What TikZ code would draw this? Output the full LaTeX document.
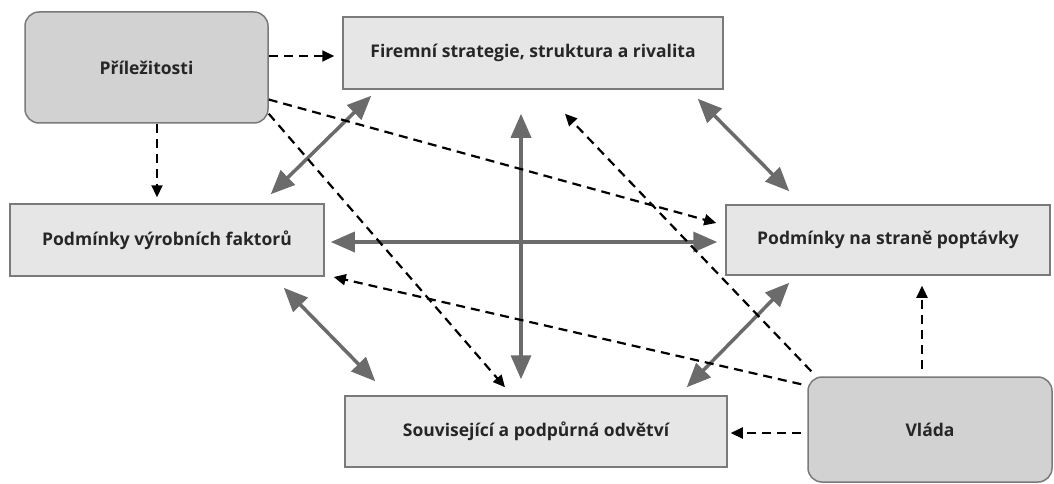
\documentclass[tikz,border=0pt]{standalone}
\usepackage{fontspec}
\setmainfont{Open Sans}
\usetikzlibrary{arrows.meta,calc}
\definecolor{boxfill}{HTML}{E6E6E6}
\definecolor{roundfill}{HTML}{D2D2D2}
\definecolor{boxline}{HTML}{7A7A7A}
\definecolor{solidarrow}{HTML}{6B6B6B}
\tikzset{
  rectbox/.style={draw=boxline, line width=1.5pt, fill=boxfill, inner sep=0pt,
    font=\fontsize{17.5}{20}\selectfont\bfseries, text=black!85},
  roundbox/.style={rectbox, fill=roundfill, rounded corners=14pt},
  biarrow/.style={draw=solidarrow, line width=3.5pt,
    {Triangle[length=24pt,width=20pt]}-{Triangle[length=24pt,width=20pt]}},
  dasharrow/.style={draw=black, line width=2.2pt, dash pattern=on 9pt off 6pt,
    -{Triangle[length=12pt,width=11pt]}}
}
\begin{document}
\begin{tikzpicture}[x=1pt,y=-1pt]
\useasboundingbox (0,0) rectangle (1054,484);
\node[roundbox, minimum width=243pt, minimum height=111pt] (P) at (146.5,67.5) {Příležitosti};
\node[rectbox, minimum width=380pt, minimum height=72pt] (F) at (533,53) {Firemní strategie, struktura a rivalita};
\node[rectbox, minimum width=314pt, minimum height=72pt] (V) at (167,240) {Podmínky výrobních faktorů};
\node[rectbox, minimum width=324pt, minimum height=70pt] (D) at (888,240) {Podmínky na straně poptávky};
\node[rectbox, minimum width=382pt, minimum height=71pt] (S) at (536,431.5) {Související a podpůrná odvětví};
\node[roundbox, minimum width=244pt, minimum height=105pt] (G) at (930,429.5) {Vláda};

% solid double arrows
\draw[biarrow] ($(V.north east)+(-54,-9)$) -- ($(F.south west)+(29,6)$);
\draw[biarrow] ($(F.south east)+(-26,9)$) -- ($(D.north west)+(64,-13)$);
\draw[biarrow] ($(F.south)+(-12,24)$) -- ($(S.north)+(-15,-16)$);
\draw[biarrow] ($(V.east)+(6,2)$) -- ($(D.west)+(-8,2)$);
\draw[biarrow] ($(V.south east)+(-41,11)$) -- ($(S.north west)+(31,-14)$);
\draw[biarrow] ($(S.north east)+(-41,-8)$) -- ($(D.south west)+(64,7)$);

% dashed arrows
\draw[dasharrow] ($(P.east)+(0,-11.5)$) -- ($(F.west)+(-8,3)$);
\draw[dasharrow] ($(P.south)+(10.5,0)$) -- ($(V.north)+(-10,-6)$);
\draw[dasharrow] ($(P.east)+(0,32)$) -- ($(D.west)+(-9,-17)$);
\draw[dasharrow] ($(P.south east)+(0,-10)$) -- ($(S.north)+(-31,-8)$);
\draw[dasharrow] ($(G.north west)+(4,-5)$) -- ($(F.south)+(32,24)$);
\draw[dasharrow] ($(G.north west)+(-6,8)$) -- ($(V.east)+(9,37)$);
\draw[dasharrow] ($(G.west)+(-6,3.5)$) -- ($(S.east)+(3,1.5)$);
\draw[dasharrow] ($(G.north)+(-8,-7)$) -- ($(D.south)+(34,10)$);
\end{tikzpicture}
\end{document}
